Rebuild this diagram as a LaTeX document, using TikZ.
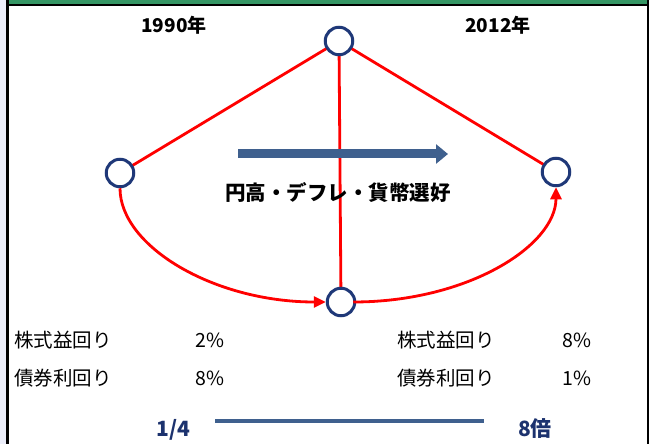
\documentclass[tikz,border=0pt]{standalone}
\usepackage{fontspec}
\setmainfont{Noto Sans CJK JP}
\usetikzlibrary{arrows.meta,calc}
\definecolor{frameGreen}{RGB}{53,150,100}
\definecolor{sideLav}{RGB}{236,238,250}
\definecolor{ringNavy}{RGB}{31,56,120}
\definecolor{arrowBlue}{RGB}{63,96,142}
\definecolor{textNavy}{RGB}{28,50,110}
\tikzset{
  ring/.style={circle, draw=ringNavy, line width=3pt, fill=white, minimum size=27.5pt, inner sep=0pt},
  redline/.style={draw=red, line width=2.8pt},
  redarrow/.style={draw=red, line width=2.8pt, -{Triangle[length=12pt,width=11pt]}},
  bigarrow/.style={draw=arrowBlue, line width=9pt, -{Triangle[length=12pt,width=19pt]}},
  yearlbl/.style={font=\fontsize{19}{22}\selectfont\bfseries, inner sep=0pt},
  titlelbl/.style={font=\fontsize{20.5}{24}\selectfont\bfseries, inner sep=0pt},
  datalbl/.style={font=\fontsize{19.5}{22}\selectfont, inner sep=0pt, anchor=west},
  ratiolbl/.style={font=\fontsize{21}{24}\selectfont\bfseries, text=textNavy, inner sep=0pt},
}
\begin{document}
\begin{tikzpicture}[x=1pt,y=-1pt]
\useasboundingbox (0,0) rectangle (649,444);
% frame
\fill[sideLav] (0,0) rectangle (7,444);
\fill[frameGreen] (7,0) rectangle (649,4.5);
\fill[black] (7,4.5) rectangle (649,6.5);
\fill[black] (6,0) rectangle (8.5,444);
\fill[black] (647,0) rectangle (649,444);
% labels
\node[yearlbl] (y1) at (174,25) {1990年};
\node[yearlbl] (y2) at (498,25) {2012年};
% node positions
\coordinate (pt) at (339,41);
\coordinate (pl) at (120,173);
\coordinate (pr) at (556,172);
\coordinate (pb) at (341,302);
% connectors
\draw[redline] (pt) -- (pl);
\draw[redline] (pt) -- (pr);
\draw[redline] (pt) -- (pb);
\node[ring] (top) at (pt) {};
\node[ring] (left) at (pl) {};
\node[ring] (right) at (pr) {};
\node[ring] (bot) at (pb) {};
\draw[redarrow] (left.south) .. controls ($(left.south)+(0,58)$) and ($(bot.west)+(-112,0)$) .. (bot.west);
\draw[redarrow] ($(bot.east)+(-3,0)$) .. controls ($(bot.east)+(112,0)$) and ($(right.south)+(0,58)$) .. (right.south);
% big arrow
\coordinate (a1) at (238,154);
\coordinate (a2) at (448,154);
\draw[bigarrow] (a1) -- (a2);
\node[titlelbl] (title) at (338,193) {円高・デフレ・貨幣選好};
% data
\node[datalbl] (l1) at (14,340) {株式益回り};
\node[datalbl] (l1v) at (195,340) {2\%};
\node[datalbl] (l2) at (14,378) {債券利回り};
\node[datalbl] (l2v) at (195,378) {8\%};
\node[datalbl] (r1) at (397,340) {株式益回り};
\node[datalbl] (r1v) at (562,340) {8\%};
\node[datalbl] (r2) at (397,378) {債券利回り};
\node[datalbl] (r2v) at (562,378) {1\%};
% ratio
\node[ratiolbl] (q) at (173.5,430) {1/4};
\node[ratiolbl] (m) at (535,429) {8倍};
\coordinate (b1) at (215,421);
\coordinate (b2) at (484,421);
\draw[draw=arrowBlue, line width=4pt] (b1) -- (b2);
\end{tikzpicture}
\end{document}
